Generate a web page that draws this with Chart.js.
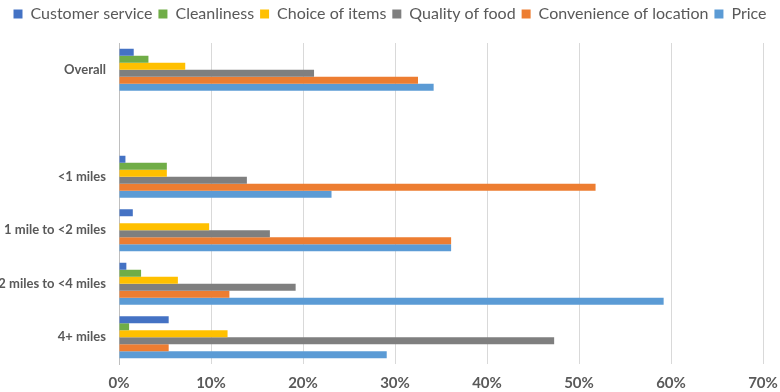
<!DOCTYPE html>
<html lang="en">
<head>
  <meta charset="UTF-8">
  <title>Reasons by distance</title>
  <script src="https://cdn.jsdelivr.net/npm/chart.js"></script>
  <style>
    html, body { margin: 0; padding: 0; background: #fff; }
    .wrap { width: 780px; height: 392px; }
  </style>
</head>
<body>
  <div class="wrap"><canvas id="chart" width="780" height="392"></canvas></div>
  <script>
    // values in percent
    const categories = ['Overall', '', '<1 miles', '1 mile to <2 miles', '2 miles to <4 miles', '4+ miles'];
    const customerService = [1.6, null, 0.7, 1.5, 0.8, 5.4];
    const cleanliness = [3.2, null, 5.2, 0, 2.4, 1.1];
    const choiceOfItems = [7.2, null, 5.2, 9.8, 6.4, 11.8];
    const qualityOfFood = [21.2, null, 13.9, 16.4, 19.2, 47.3];
    const convenience = [32.5, null, 51.8, 36.1, 12.0, 5.4];
    const price = [34.2, null, 23.1, 36.1, 59.2, 29.1];
    const xTicks = [0, 10, 20, 30, 40, 50, 60, 70];

    const font = 'Lato, "Open Sans", sans-serif';
    const textGrey = '#595959';

    // fixed legend band so the plot starts where the reference does
    const legendGap = {
      id: 'legendGap',
      beforeInit(chart) {
        const fit = chart.legend.fit;
        chart.legend.fit = function () {
          fit.bind(chart.legend)();
          this.height = 43;
        };
      }
    };

    function ds(label, data, color) {
      return { label: label, data: data, backgroundColor: color, borderWidth: 0 };
    }

    new Chart(document.getElementById('chart'), {
      type: 'bar',
      data: {
        labels: categories,
        datasets: [
          ds('Customer service', customerService, '#4472C4'),
          ds('Cleanliness', cleanliness, '#70AD47'),
          ds('Choice of items', choiceOfItems, '#FFC000'),
          ds('Quality of food', qualityOfFood, '#7F7F7F'),
          ds('Convenience of location', convenience, '#ED7D31'),
          ds('Price', price, '#5B9BD5')
        ]
      },
      options: {
        indexAxis: 'y',
        responsive: false,
        animation: false,
        categoryPercentage: 0.785,
        barPercentage: 1.0,
        layout: { padding: 0 },
        plugins: {
          legend: {
            position: 'top',
            labels: {
              boxWidth: 9,
              boxHeight: 9,
              padding: 6,
              color: textGrey,
              font: { family: font, size: 16 }
            }
          },
          tooltip: { enabled: false }
        },
        scales: {
          x: {
            min: 0,
            max: 70,
            afterBuildTicks(scale) {
              scale.ticks = xTicks.map(v => ({ value: v }));
            },
            afterFit(scale) {
              scale.height = 28;
              scale.paddingRight = 17;
              scale.paddingLeft = 0;
            },
            grid: { color: '#D9D9D9', lineWidth: 1, drawTicks: false },
            border: { display: false },
            ticks: {
              padding: 10,
              color: textGrey,
              font: { family: font, size: 15, weight: 'bold' },
              callback: v => v + '%'
            }
          },
          y: {
            grid: { display: false },
            border: { display: true, color: '#BFBFBF' },
            afterFit(scale) { scale.width = 119; },
            ticks: {
              padding: 5,
              color: textGrey,
              font: { family: font, size: 13, weight: 'bold' }
            }
          }
        }
      },
      plugins: [legendGap]
    });
  </script>
</body>
</html>
